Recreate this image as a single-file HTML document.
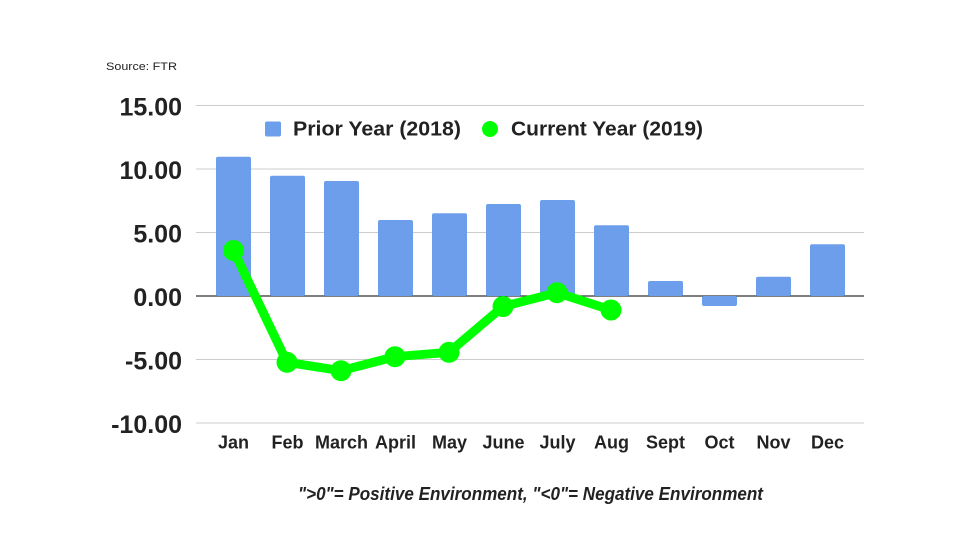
<!DOCTYPE html>
<html>
<head>
<meta charset="utf-8">
<style>
  html,body{margin:0;padding:0;background:#fff;}
  svg{display:block;}
  text{font-family:"Liberation Sans",Arial,sans-serif;fill:#222;}
</style>
</head>
<body>
<svg width="980" height="552" viewBox="0 0 980 552" xmlns="http://www.w3.org/2000/svg">
  <rect width="980" height="552" fill="#fff"/>
  <text x="106" y="70" font-size="11" textLength="71" lengthAdjust="spacingAndGlyphs">Source: FTR</text>

  <!-- gridlines -->
  <g stroke="#cccccc" stroke-width="1">
    <line x1="196" x2="864" y1="105.5" y2="105.5"/>
    <line x1="196" x2="864" y1="169" y2="169"/>
    <line x1="196" x2="864" y1="232.5" y2="232.5"/>
    <line x1="196" x2="864" y1="359.5" y2="359.5"/>
    <line x1="196" x2="864" y1="423" y2="423"/>
  </g>
  <line x1="196" x2="864" y1="296" y2="296" stroke="#333" stroke-width="1.2"/>

  <!-- y labels -->
  <g font-size="25" font-weight="bold" text-anchor="end">
    <text x="182" y="115.5">15.00</text>
    <text x="182" y="179">10.00</text>
    <text x="182" y="242.5">5.00</text>
    <text x="182" y="306">0.00</text>
    <text x="182" y="369.5">-5.00</text>
    <text x="182" y="433">-10.00</text>
  </g>

  <!-- bars -->
  <g fill="#6d9eeb">
    <rect x="216" y="156.7" width="35" height="139.3" rx="2"/>
    <rect x="270" y="175.7" width="35" height="120.3" rx="2"/>
    <rect x="324" y="181" width="35" height="115" rx="2"/>
    <rect x="378" y="220" width="35" height="76" rx="2"/>
    <rect x="432" y="213.3" width="35" height="82.7" rx="2"/>
    <rect x="486" y="204" width="35" height="92" rx="2"/>
    <rect x="540" y="200" width="35" height="96" rx="2"/>
    <rect x="594" y="225.3" width="35" height="70.7" rx="2"/>
    <rect x="648" y="281" width="35" height="15" rx="2"/>
    <rect x="702" y="296" width="35" height="10" rx="2"/>
    <rect x="756" y="276.7" width="35" height="19.3" rx="2"/>
    <rect x="810" y="244.3" width="35" height="51.7" rx="2"/>
  </g>

  <!-- line -->
  <polyline fill="none" stroke="#00ff00" stroke-width="9" stroke-linejoin="round"
    points="233.5,250.5 287,362.3 341,370.7 395,356.7 449,352.3 503,306.5 557,292.7 611,310"/>
  <g fill="#00ff00">
    <circle cx="233.5" cy="250.5" r="10.5"/>
    <circle cx="287" cy="362.3" r="10.5"/>
    <circle cx="341" cy="370.7" r="10.5"/>
    <circle cx="395" cy="356.7" r="10.5"/>
    <circle cx="449" cy="352.3" r="10.5"/>
    <circle cx="503" cy="306.5" r="10.5"/>
    <circle cx="557" cy="292.7" r="10.5"/>
    <circle cx="611" cy="310" r="10.5"/>
  </g>

  <!-- legend -->
  <rect x="265" y="121.5" width="16" height="15" rx="2" fill="#6d9eeb"/>
  <text x="293" y="135.5" font-size="20" font-weight="bold" textLength="168" lengthAdjust="spacingAndGlyphs">Prior Year (2018)</text>
  <circle cx="490" cy="129" r="8" fill="#00ff00"/>
  <text x="511" y="135.5" font-size="20" font-weight="bold" textLength="192" lengthAdjust="spacingAndGlyphs">Current Year (2019)</text>

  <!-- x labels -->
  <g font-size="18" font-weight="bold" text-anchor="middle">
    <text x="233.5" y="448.5">Jan</text>
    <text x="287.5" y="448.5">Feb</text>
    <text x="341.5" y="448.5">March</text>
    <text x="395.5" y="448.5">April</text>
    <text x="449.5" y="448.5">May</text>
    <text x="503.5" y="448.5">June</text>
    <text x="557.5" y="448.5">July</text>
    <text x="611.5" y="448.5">Aug</text>
    <text x="665.5" y="448.5">Sept</text>
    <text x="719.5" y="448.5">Oct</text>
    <text x="773.5" y="448.5">Nov</text>
    <text x="827.5" y="448.5">Dec</text>
  </g>

  <text x="298" y="500" font-size="18" font-weight="bold" font-style="italic" textLength="465" lengthAdjust="spacingAndGlyphs">"&gt;0"= Positive Environment, "&lt;0"= Negative Environment</text>
</svg>
</body>
</html>
